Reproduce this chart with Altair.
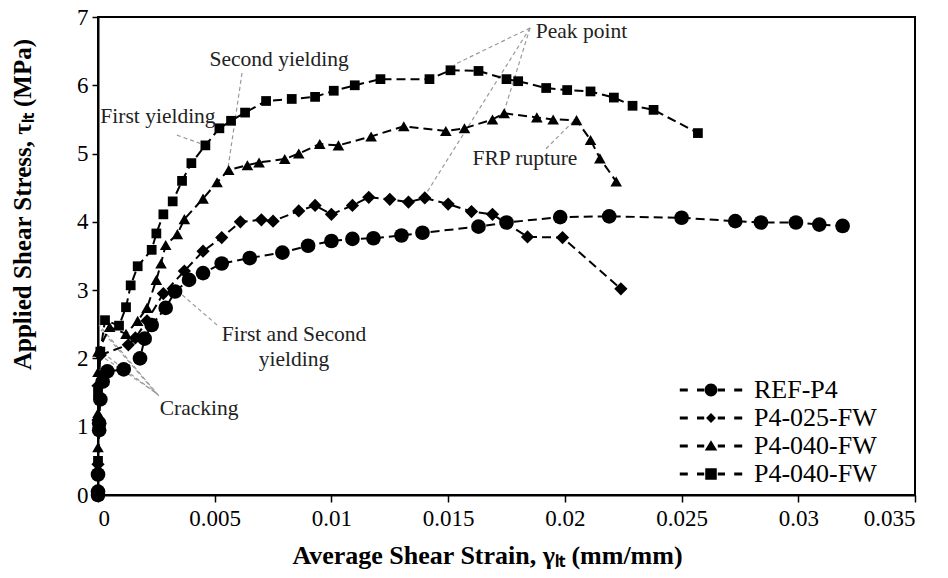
import altair as alt
import pandas as pd

FONT = "Liberation Serif"

# ---------------- data ----------------
series_keys = ["S0", "S1", "S2", "S3"]
series_names = ["REF-P4", "P4-025-FW", "P4-040-FW", "P4-040-FW"]

ref_x = [0, 0, 0, 0.00005, 0.00005, 0.0001, 0.0002, 0.0004, 0.0011, 0.0018, 0.0020, 0.0023,
         0.0029, 0.0033, 0.0039, 0.0045, 0.0053, 0.0065, 0.0079, 0.0090, 0.0100, 0.0109,
         0.0118, 0.0130, 0.0139, 0.0163, 0.0175, 0.0198, 0.0219, 0.0250, 0.0273, 0.0284,
         0.0299, 0.0309, 0.0319]
ref_y = [0, 0.05, 0.3, 0.95, 1.05, 1.4, 1.66, 1.81, 1.84, 2.0, 2.29, 2.49,
         2.74, 2.98, 3.15, 3.25, 3.39, 3.47, 3.55, 3.65, 3.72, 3.75,
         3.76, 3.80, 3.84, 3.93, 3.99, 4.07, 4.08, 4.06, 4.01, 3.99,
         3.99, 3.96, 3.94]

p025_x = [0, 0, 0, 0, 0.0001, 0.0013, 0.0016, 0.0021, 0.0028, 0.0037, 0.0045, 0.0053,
          0.0061, 0.0070, 0.0075, 0.0086, 0.0093, 0.0100, 0.0109, 0.0116, 0.0125, 0.0133,
          0.0140, 0.0150, 0.0160, 0.0169, 0.0184, 0.0199, 0.0224]
p025_y = [0, 0.45, 1.1, 1.6, 2.05, 2.2, 2.3, 2.55, 2.95, 3.28, 3.57, 3.77,
          4.0, 4.03, 4.01, 4.16, 4.24, 4.11, 4.24, 4.36, 4.33, 4.29,
          4.35, 4.26, 4.15, 4.11, 3.78, 3.77, 3.02]

p040a_x = [0, 0, 0, 0, 0, 0.0005, 0.0012, 0.0017, 0.0021, 0.0025, 0.0027, 0.0029,
           0.0034, 0.0037, 0.0045, 0.0051, 0.0056, 0.0064, 0.0069, 0.0080, 0.0086, 0.0095,
           0.0103, 0.0117, 0.0131, 0.0149, 0.0157, 0.0169, 0.0174, 0.0188, 0.0195, 0.0205,
           0.0211, 0.0215, 0.0222]
p040a_y = [0, 0.7, 1.2, 1.8, 2.1, 2.46, 2.36, 2.55, 2.74, 3.15, 3.39, 3.66,
           3.82, 4.04, 4.34, 4.58, 4.76, 4.83, 4.87, 4.92, 5.0, 5.14,
           5.12, 5.25, 5.40, 5.33, 5.37, 5.50, 5.59, 5.53, 5.50, 5.49,
           5.20, 4.93, 4.59]

p040b_x = [0, 0, 0, 0, 0.0001, 0.0003, 0.0009, 0.0012, 0.0014, 0.0017, 0.0023, 0.0025,
           0.0028, 0.0032, 0.0036, 0.0040, 0.0046, 0.0052, 0.0057, 0.0063, 0.0072, 0.0083,
           0.0093, 0.0101, 0.0110, 0.0121, 0.0142, 0.0151, 0.0163, 0.0175, 0.0180, 0.0192,
           0.0201, 0.0211, 0.0221, 0.0229, 0.0238, 0.0257]
p040b_y = [0, 0.5, 1.0, 1.5, 2.1, 2.56, 2.48, 2.75, 3.07, 3.35, 3.59, 3.83,
           4.11, 4.30, 4.60, 4.86, 5.12, 5.37, 5.48, 5.60, 5.77, 5.80,
           5.83, 5.92, 6.00, 6.09, 6.09, 6.22, 6.21, 6.09, 6.06, 5.96,
           5.93, 5.91, 5.82, 5.70, 5.64, 5.30]

x_ticks = [0, 0.005, 0.01, 0.015, 0.02, 0.025, 0.03, 0.035]
y_ticks = [0, 1, 2, 3, 4, 5, 6, 7]

ann_text = ["Second yielding", "First yielding", "Peak point", "FRP rupture",
            "First and Second", "yielding", "Cracking"]
ann_x = [0.00776, 0.00257, 0.02071, 0.01829, 0.0084, 0.0084, 0.00433]
ann_y = [6.37, 5.53, 6.78, 4.92, 2.34, 1.98, 1.26]

lead_x1 = [0.00617, 0.00338, 0.01851, 0.01851, 0.01851, 0.01919, 0.0051, 0.00261, 0.00255, 0.00249, 0.00243]
lead_y1 = [6.18, 5.27, 6.84, 6.84, 6.84, 5.07, 2.49, 1.45, 1.47, 1.49, 1.51]
lead_x2 = [0.00557, 0.00437, 0.01525, 0.01739, 0.01405, 0.02039, 0.00347, 0.00004, 0.00013, 0.00017, 0.00021]
lead_y2 = [4.79, 5.15, 6.30, 5.61, 4.41, 5.48, 2.97, 2.49, 2.42, 2.09, 2.02]

# ---------------- tables ----------------
rows = []
for key, xs, ys in zip(series_keys, [ref_x, p025_x, p040a_x, p040b_x],
                       [ref_y, p025_y, p040a_y, p040b_y]):
    for i, (a, b) in enumerate(zip(xs, ys)):
        rows.append({"series": key, "idx": i, "strain": a, "stress": b})
df = pd.DataFrame(rows)
ann_df = pd.DataFrame({"text": ann_text, "x": ann_x, "y": ann_y})
lead_df = pd.DataFrame({"x1": lead_x1, "y1": lead_y1, "x2": lead_x2, "y2": lead_y2})

# ---------------- scales / axes ----------------
xscale = alt.Scale(domain=[0, 0.035], nice=False, zero=False)
yscale = alt.Scale(domain=[0, 7], nice=False)
XT = "Average Shear Strain, \u03b3\u2097\u209c (mm/mm)"
YT = "Applied Shear Stress, \u03c4\u2097\u209c (MPa)"

x_axis = alt.Axis(values=x_ticks, format="~g", title=XT, grid=False,
                  tickSize=7, labelPadding=5, titleX=389, titleY=60,
                  titleFontSize=26, titleBaseline="middle", titleAlign="center")
y_axis = alt.Axis(values=y_ticks, format="d", title=YT, grid=False,
                  tickSize=6, labelPadding=4, titleX=-76, titleY=187,
                  titleFontSize=25, titleAngle=270, titleAlign="center",
                  titleBaseline="middle")

X = alt.X("strain:Q", scale=xscale, axis=x_axis)
Y = alt.Y("stress:Q", scale=yscale, axis=y_axis)

marker_shapes = ["circle", "diamond", "triangle-up", "square"]
marker_sizes = [215, 95, 150, 160]

lines = alt.Chart(df).mark_line(color="black", strokeDash=[9, 5], strokeWidth=2).encode(
    x=X, y=Y, detail="series:N", order="idx:Q")

points = alt.Chart(df).mark_point(filled=True, color="black", opacity=1, strokeWidth=0).encode(
    x=X, y=Y,
    shape=alt.Shape("series:N", scale=alt.Scale(domain=series_keys, range=marker_shapes), legend=None),
    size=alt.Size("series:N", scale=alt.Scale(domain=series_keys, range=marker_sizes), legend=None),
)

leaders = alt.Chart(lead_df).mark_rule(color="#9a9a9a", strokeDash=[4, 3], strokeWidth=1.2).encode(
    x=alt.X("x1:Q", scale=xscale, axis=x_axis), y=alt.Y("y1:Q", scale=yscale, axis=y_axis),
    x2="x2:Q", y2="y2:Q")

labels = alt.Chart(ann_df).mark_text(font=FONT, fontSize=21.5, color="#222222").encode(
    x=alt.X("x:Q", scale=xscale, axis=x_axis), y=alt.Y("y:Q", scale=yscale, axis=y_axis),
    text="text:N")

# legend symbols: dashed line segments with the marker in the middle
dash = "M-3.9,-0.18 L-2.9,-0.18 L-2.9,0.18 L-3.9,0.18 Z M-1.75,-0.18 L-0.85,-0.18 L-0.85,0.18 L-1.75,0.18 Z " \
       "M0.85,-0.18 L1.75,-0.18 L1.75,0.18 L0.85,0.18 Z M2.9,-0.18 L3.9,-0.18 L3.9,0.18 L2.9,0.18 Z "
legend_paths = [
    dash + "M0.8,0 A0.8,0.8 0 1,1 -0.8,0 A0.8,0.8 0 1,1 0.8,0 Z",
    dash + "M0,-0.62 L0.62,0 L0,0.62 L-0.62,0 Z",
    dash + "M0,-0.72 L0.78,0.56 L-0.78,0.56 Z",
    dash + "M-0.72,-0.72 L0.72,-0.72 L0.72,0.72 L-0.72,0.72 Z",
]
label_expr = "[" + ",".join("'%s'" % n for n in series_names) + "][indexof([" + \
             ",".join("'%s'" % k for k in series_keys) + "], datum.label)]"

legend_layer = alt.Chart(df).transform_filter("false").mark_point(
    filled=True, color="black", opacity=1, size=256).encode(
    x=X, y=Y,
    shape=alt.Shape("series:N", scale=alt.Scale(domain=series_keys, range=legend_paths),
                    legend=alt.Legend(title=None, orient="none", legendX=600, legendY=360,
                                      direction="vertical", labelFont=FONT, labelFontSize=26,
                                      labelColor="black", labelOffset=30, symbolSize=256,
                                      symbolFillColor="black", symbolStrokeWidth=0,
                                      symbolOpacity=1, rowPadding=2, padding=0,
                                      labelExpr=label_expr)),
)

chart = alt.layer(leaders, lines, points, labels, legend_layer).resolve_scale(
    shape="independent"
).properties(
    width=817, height=478,
    autosize=alt.AutoSizeParams(type="none"),
    padding={"left": 98, "top": 17, "right": 33, "bottom": 83},
    background="white",
).configure_view(
    stroke="black", strokeWidth=2
).configure_axis(
    labelFont=FONT, labelFontSize=23, labelColor="black",
    titleFont=FONT, titleFontWeight="bold", titleColor="black",
    domainColor="black", domainWidth=2, tickColor="black", tickWidth=1.5,
)

chart.save("out.html", embed_options={"renderer": "svg", "actions": False})
